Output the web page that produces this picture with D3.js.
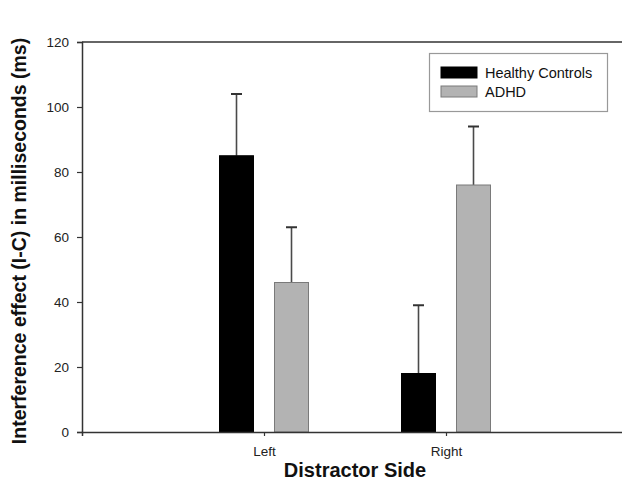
<!DOCTYPE html>
<html>
<head>
<meta charset="utf-8">
<script src="https://cdn.jsdelivr.net/npm/d3@7"></script>
<style>
body { margin: 0; background: #fff; }
svg { font-family: "Liberation Sans", Arial, sans-serif; }
</style>
</head>
<body>
<svg width="622" height="483"></svg>
<script>
'use strict';

// distractor sides on x
const categories = ["Left", "Right"];
const seriesNames = ["Healthy Controls", "ADHD"];
const controlsMean = [85, 18];
const controlsErr = [19, 21];
const adhdMean = [46, 76];
const adhdErr = [17, 18];
const yTicks = [0, 20, 40, 60, 80, 100, 120];

const colors = ["#000000", "#b3b3b3"];
const strokes = ["#000000", "#7a7a7a"];

const svg = d3.select("svg");
const plotLeft = 82, plotRight = 628, plotTop = 42, plotBottom = 432;

// categories sit at 1/3 and 2/3 of the plot width
const x = d3.scaleLinear().domain([0, 3]).range([plotLeft, plotRight]);
const y = d3.scaleLinear().domain([0, 120]).range([plotBottom, plotTop]);

const barW = 34, offset = 27.5;

const data = [];
categories.forEach(function (c, i) {
    data.push({cat: i, s: 0, v: controlsMean[i], e: controlsErr[i]});
    data.push({cat: i, s: 1, v: adhdMean[i], e: adhdErr[i]});
});

function cx(d) {
    return x(d.cat + 1) + (d.s === 0 ? -offset : offset);
}

// error bars (upper only), drawn first so bars cover the base
const eb = svg.append("g");
eb.selectAll("line.stem")
    .data(data)
    .enter().append("line")
    .attr("x1", cx).attr("x2", cx)
    .attr("y1", function (d) { return y(d.v); })
    .attr("y2", function (d) { return y(d.v + d.e); })
    .attr("stroke", "#4a4a4a").attr("stroke-width", 1.6);
eb.selectAll("line.cap")
    .data(data)
    .enter().append("line")
    .attr("x1", function (d) { return cx(d) - 5.5; })
    .attr("x2", function (d) { return cx(d) + 5.5; })
    .attr("y1", function (d) { return y(d.v + d.e); })
    .attr("y2", function (d) { return y(d.v + d.e); })
    .attr("stroke", "#333").attr("stroke-width", 2);

svg.append("g").selectAll("rect")
    .data(data)
    .enter().append("rect")
    .attr("x", function (d) { return cx(d) - barW / 2; })
    .attr("width", barW)
    .attr("y", function (d) { return y(d.v); })
    .attr("height", function (d) { return plotBottom - y(d.v); })
    .attr("fill", function (d) { return colors[d.s]; })
    .attr("stroke", function (d) { return strokes[d.s]; })
    .attr("stroke-width", 1);

// top frame line
svg.append("line")
    .attr("x1", plotLeft).attr("x2", plotRight)
    .attr("y1", plotTop).attr("y2", plotTop)
    .attr("stroke", "#333").attr("stroke-width", 1.5);

const yAxis = svg.append("g")
    .attr("transform", "translate(" + plotLeft + ",0)")
    .call(d3.axisLeft(y).tickValues(yTicks).tickSize(5).tickPadding(8));
const xAxis = svg.append("g")
    .attr("transform", "translate(0," + plotBottom + ")")
    .call(d3.axisBottom(x).tickValues([1, 2]).tickSize(4).tickPadding(10)
        .tickFormat(function (d) { return categories[d - 1]; }));

[yAxis, xAxis].forEach(function (a) {
    a.select(".domain").attr("stroke", "#333").attr("stroke-width", 1.5);
    a.selectAll(".tick line").attr("stroke", "#333").attr("stroke-width", 1.2);
    a.selectAll(".tick text")
        .attr("fill", "#222")
        .style("font-size", "13.5px")
        .style("font-family", "Liberation Sans, Arial, sans-serif");
});

svg.append("text")
    .attr("x", (plotLeft + plotRight) / 2).attr("y", 477)
    .attr("text-anchor", "middle")
    .style("font-size", "20px").style("font-weight", "bold")
    .attr("fill", "#111")
    .text("Distractor Side");

svg.append("text")
    .attr("transform", "translate(26," + 241 + ") rotate(-90)")
    .attr("text-anchor", "middle")
    .style("font-size", "19.5px").style("font-weight", "bold")
    .attr("fill", "#111")
    .text("Interference effect (I-C) in milliseconds (ms)");

// legend
const lg = svg.append("g");
lg.append("rect")
    .attr("x", 429.5).attr("y", 53.5).attr("width", 178).attr("height", 58)
    .attr("fill", "#fff").attr("stroke", "#999").attr("stroke-width", 1.2);
seriesNames.forEach(function (name, i) {
    const yy = 67 + i * 19;
    lg.append("rect")
        .attr("x", 441).attr("y", yy).attr("width", 36).attr("height", 11)
        .attr("fill", colors[i]).attr("stroke", strokes[i]);
    lg.append("text")
        .attr("x", 485).attr("y", yy + 10.5)
        .style("font-size", "14.5px")
        .attr("fill", "#111")
        .text(name);
});
</script>
</body>
</html>
